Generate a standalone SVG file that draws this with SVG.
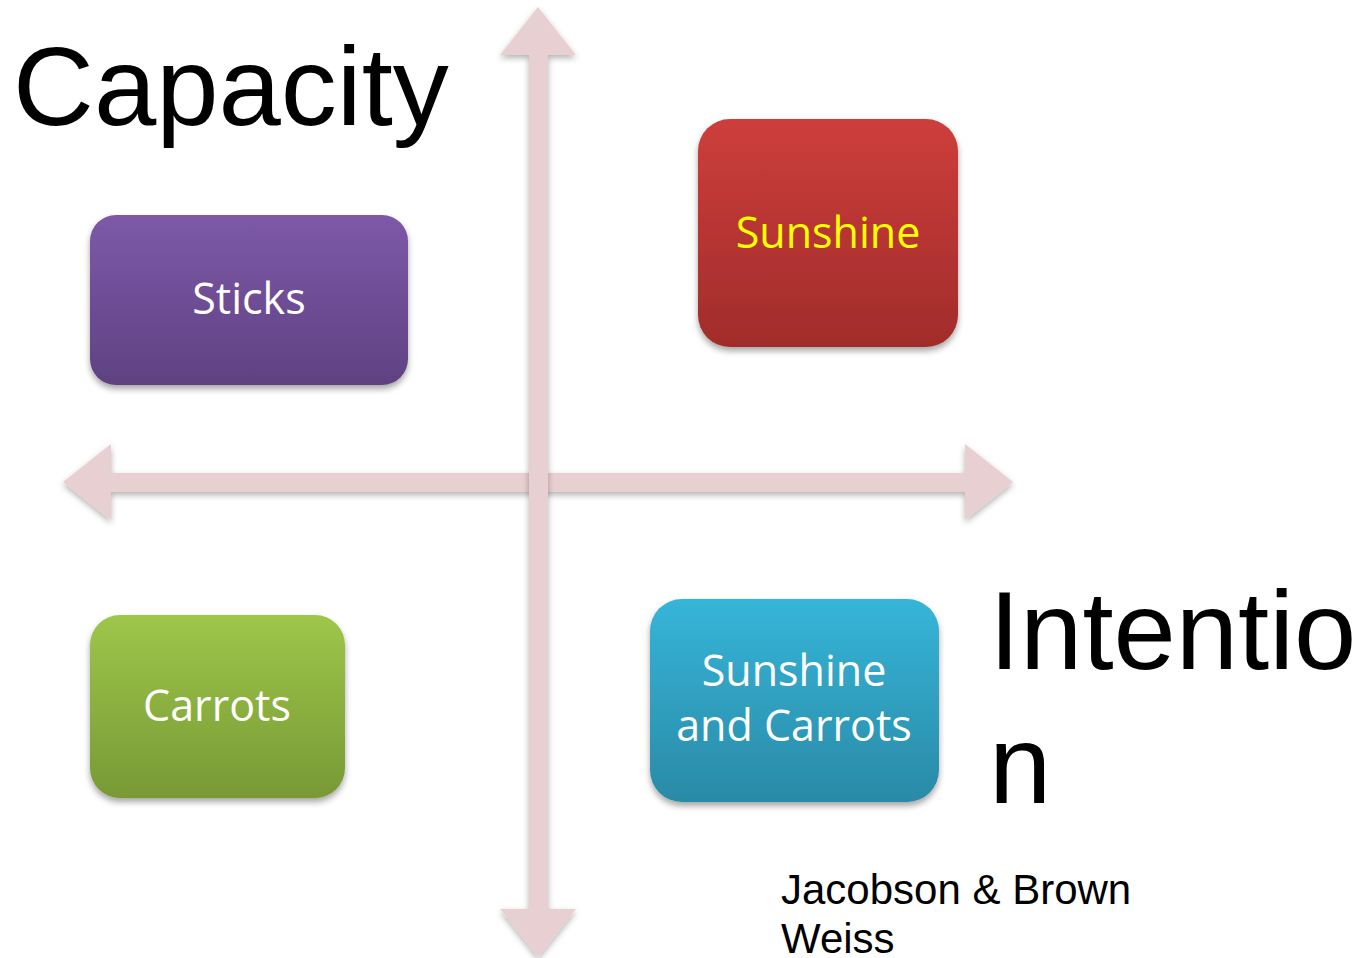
<svg xmlns="http://www.w3.org/2000/svg" width="1371" height="958" viewBox="0 0 1371 958">
<style>
.box{filter:url(#sh)}
.lbl{font-family:"Open Sans","Noto Sans",sans-serif;font-size:43px;text-anchor:middle;fill:#ffffff}
.big{font-family:"Liberation Sans",Arial,sans-serif;font-size:112px;fill:#000}
.cite{font-family:"Liberation Sans",Arial,sans-serif;font-size:42px;fill:#000}
.axis{fill:#E8CFD1;filter:url(#ash)}
</style>
<defs>
<filter id="sh" x="-10%" y="-10%" width="120%" height="130%">
<feDropShadow dx="0" dy="4" stdDeviation="3" flood-color="#000" flood-opacity="0.35"/>
</filter>
<filter id="ash" x="-10%" y="-10%" width="120%" height="120%">
<feDropShadow dx="0" dy="3" stdDeviation="3" flood-color="#000" flood-opacity="0.3"/>
</filter>
<linearGradient id="gP" x1="0" y1="0" x2="0" y2="1"><stop offset="0" stop-color="#7D59A8"/><stop offset="1" stop-color="#5F4282"/></linearGradient>
<linearGradient id="gR" x1="0" y1="0" x2="0" y2="1"><stop offset="0" stop-color="#CD3E3B"/><stop offset="1" stop-color="#A12C2B"/></linearGradient>
<linearGradient id="gG" x1="0" y1="0" x2="0" y2="1"><stop offset="0" stop-color="#9EC64A"/><stop offset="1" stop-color="#789935"/></linearGradient>
<linearGradient id="gB" x1="0" y1="0" x2="0" y2="1"><stop offset="0" stop-color="#36B5D9"/><stop offset="1" stop-color="#2A8AA6"/></linearGradient>
</defs>
<rect width="1371" height="958" fill="#ffffff"/>
<g id="connectors">
<polygon class="axis" points="63,482 111,444 111,473 965,473 965,444 1013,482 965,520 965,492 111,492 111,520"/>
<polygon class="axis" points="538,7 576,55 548,55 548,909 576,909 538,957 500,909 529,909 529,55 500,55"/>
</g>
<g id="node-sticks">
<rect class="box" x="90" y="215" width="318" height="170" rx="26" fill="url(#gP)"/>
<text class="lbl" x="249" y="314">Sticks</text>
</g>
<g id="node-sunshine">
<rect class="box" x="698" y="119" width="260" height="228" rx="32" fill="url(#gR)"/>
<text class="lbl" x="828" y="248" style="fill:#FFFF00">Sunshine</text>
</g>
<g id="node-carrots">
<rect class="box" x="90" y="615" width="255" height="183" rx="30" fill="url(#gG)"/>
<text class="lbl" x="217" y="721">Carrots</text>
</g>
<g id="node-sunshine-carrots">
<rect class="box" x="650" y="599" width="289" height="203" rx="32" fill="url(#gB)"/>
<text class="lbl" x="794" y="686">Sunshine</text>
<text class="lbl" x="794" y="741">and Carrots</text>
</g>
<g id="labels">
<text class="big" x="13" y="125">Capacity</text>
<text class="big" x="989" y="669">Intentio</text>
<text class="big" x="989" y="803">n</text>
<text class="cite" x="781" y="904">Jacobson &amp; Brown</text>
<text class="cite" x="781" y="953">Weiss</text>
</g>
</svg>
